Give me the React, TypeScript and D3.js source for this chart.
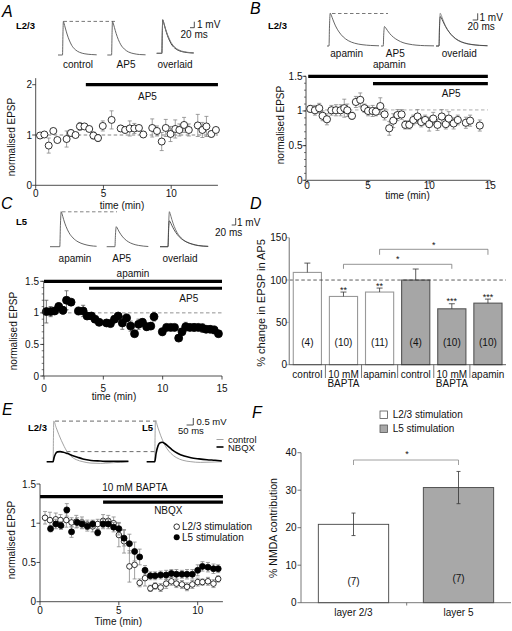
import React from 'react';
import * as d3 from 'd3';

const FONT = "'Liberation Sans', Arial, Helvetica, sans-serif";

// ---------- Panel A data ----------
const A_time = [0.32,0.64,0.96,1.3,1.6,2.28,2.6,2.94,3.26,3.6,3.95,4.26,4.6,4.95,5.6,6.27,6.6,6.94,7.28,7.62,7.94,8.6,8.95,9.3,9.6,9.95,10.3,10.6,10.95,11.3,11.96,12.3,12.6,12.96,13.3];
const A_val = [0.99,1.01,0.79,1.08,0.9,0.92,1.04,1.0,1.17,1.17,1.12,0.99,0.94,1.18,1.3,1.13,1.1,1.13,1.13,1.14,1.01,1.14,1.08,0.87,1.14,1.02,1.12,1.1,1.2,1.1,1.19,1.1,1.17,1.02,1.1];
const A_err = [0.03,0.04,0.15,0.03,0.04,0.16,0.06,0.05,0.08,0.04,0.04,0.07,0.07,0.1,0.18,0.06,0.06,0.15,0.1,0.05,0.06,0.18,0.1,0.18,0.17,0.15,0.18,0.12,0.15,0.12,0.22,0.15,0.2,0.06,0.05];
const A_xticks = [0,5,10];
const A_yticks = [0,1,2];

// ---------- Panel B data ----------
const B_time = [0.27,0.65,1.0,1.28,1.63,2.0,2.37,2.75,3.05,3.3,3.68,4.0,4.36,4.7,5.0,5.37,5.64,6.0,6.35,6.73,7.06,7.4,7.74,8.04,8.37,8.7,9.05,9.35,9.67,10.0,10.33,10.68,11.03,11.36,11.6,12.0,12.34,13.0,13.35,14.14];
const B_val = [1.03,1.01,1.04,0.93,0.88,1.01,1.01,1.01,1.04,1.01,0.93,1.13,1.16,1.04,1.0,1.0,0.99,1.07,0.95,0.75,0.86,0.94,0.95,0.8,0.8,0.87,0.92,0.84,0.87,0.81,0.89,0.8,0.92,0.81,0.89,0.82,0.87,0.83,0.86,0.79];
const B_err = [0.05,0.07,0.07,0.07,0.08,0.07,0.08,0.08,0.13,0.09,0.05,0.08,0.1,0.06,0.07,0.08,0.06,0.12,0.08,0.1,0.1,0.08,0.07,0.06,0.06,0.07,0.1,0.07,0.07,0.1,0.09,0.08,0.1,0.07,0.1,0.08,0.07,0.08,0.08,0.08];
const B_xticks = [0,5,10,15];
const B_yticks = [0,0.5,1,1.5];

// ---------- Panel C data ----------
const C_time = [0.2,0.56,0.9,1.24,1.6,1.9,2.28,2.9,3.3,3.63,4.0,4.3,4.65,5.27,5.6,5.94,6.25,6.6,6.96,7.3,7.63,7.97,8.3,8.65,9.0,9.27,9.97,10.33,10.68,11.0,11.35,11.63,11.94,12.3,12.65,13.0,13.35,13.66,14.0,14.34,14.7];
const C_val = [1.02,1.02,1.03,1.1,1.04,1.2,1.17,1.03,1.03,0.95,0.95,0.9,0.85,0.84,0.83,0.9,0.95,0.84,0.92,0.79,0.67,0.82,0.85,0.78,0.79,0.94,0.7,0.77,0.77,0.77,0.6,0.7,0.78,0.77,0.77,0.77,0.76,0.74,0.74,0.73,0.67];
const C_err = [0.18,0.08,0.05,0.06,0.06,0.15,0.05,0.06,0.09,0.05,0.05,0.04,0.05,0.05,0.05,0.05,0.04,0.1,0.06,0.08,0.04,0.08,0.06,0.06,0.05,0.07,0.06,0.05,0.04,0.04,0.04,0.05,0.07,0.05,0.06,0.05,0.07,0.05,0.05,0.06,0.04];

// ---------- Panel D data ----------
const D_cats = ['control','10 mM|BAPTA','apamin','control','10 mM|BAPTA','apamin'];
const D_val = [109,80.6,85.8,100,66,72.7];
const D_err = [11,5.2,4.7,13,6,4.8];
const D_n = ['(4)','(10)','(11)','(4)','(10)','(10)'];
const D_stars = ['','**','**','','***','***'];
const D_group = [0,0,0,1,1,1];
const D_yticks = [0,50,100,150];

// ---------- Panel E data ----------
const E_time = [0.32,0.63,1.0,1.3,1.67,2.0,2.3,2.66,3.0,3.34,3.66,4.0,4.33,4.67,5.0,5.33,5.67,6.0,6.32,6.66,7.0,7.3,7.65,8.0,8.33,8.65,9.0,9.32,9.66,10.0,10.3,10.65,11.0,11.3];
const E_l23 = [1.07,1.04,1.05,1.04,1.04,1.01,1.02,1.01,0.98,0.96,0.99,1.03,1.03,1.0,0.85,0.77,0.45,0.47,0.24,0.3,0.17,0.2,0.18,0.23,0.26,0.23,0.22,0.19,0.22,0.25,0.25,0.26,0.23,0.29];
const E_l23_err = [0.08,0.1,0.08,0.07,0.09,0.06,0.08,0.07,0.06,0.07,0.06,0.08,0.07,0.08,0.15,0.15,0.2,0.18,0.05,0.1,0.04,0.04,0.05,0.06,0.05,0.05,0.05,0.05,0.05,0.05,0.04,0.05,0.05,0.04];
const E_time5 = [0.67,1.0,1.33,1.7,2.0,2.35,2.66,3.0,3.34,3.66,4.0,4.33,4.67,5.0,5.33,5.67,6.0,6.32,6.66,7.0,7.3,7.65,8.0,8.33,8.65,9.0,9.32,9.66,10.0,10.3,10.65,11.0,11.3];
const E_l5 = [0.93,0.99,0.97,1.17,0.89,1.01,0.99,0.96,0.99,0.88,0.99,0.99,0.95,0.93,0.81,0.74,0.64,0.57,0.4,0.33,0.33,0.34,0.34,0.36,0.35,0.35,0.35,0.35,0.4,0.45,0.44,0.42,0.42];
const E_l5_err = [0.04,0.06,0.05,0.08,0.07,0.06,0.06,0.06,0.05,0.04,0.06,0.06,0.06,0.08,0.1,0.12,0.12,0.1,0.06,0.05,0.05,0.05,0.06,0.05,0.06,0.05,0.06,0.06,0.07,0.06,0.06,0.06,0.05];
const E_xticks = [0,5,10];
const E_yticks = [0,0.5,1,1.5];

// ---------- Panel F data ----------
const F_cats = ['layer 2/3','layer 5'];
const F_val = [20.9,30.7];
const F_err = [3.0,4.3];
const F_n = ['(7)','(7)'];
const F_yticks = [0,10,20,30,40];
const F_legend = ['L2/3 stimulation','L5 stimulation'];

// ---------- EPSP traces [ms, mV] ----------
type Pt = [number, number];
const A_ctrl: Pt[] = [[0,0],[21,0],[23,3.5],[25,5.6],[28,5.3],[34,4.5],[42,3.5],[52,2.5],[64,1.6],[80,0.9],[100,0.45],[125,0.2],[155,0.08],[180,0.03]];
const A_ap5: Pt[] = [[0,0],[20,0],[22,3.4],[24,5.6],[27,5.35],[33,4.6],[41,3.6],[51,2.6],[63,1.7],[79,1.0],[99,0.5],[124,0.22],[150,0.08],[178,0.03]];
const A_ov1: Pt[] = [[0,0],[24,0],[26,3.4],[28,5.6],[31,5.3],[37,4.5],[45,3.5],[55,2.5],[67,1.6],[83,0.9],[103,0.45],[128,0.2],[155,0.08],[172,0.05]];
const A_ov2: Pt[] = [[0,0],[24,0],[26,3.3],[28,5.5],[31,5.3],[37,4.6],[45,3.65],[55,2.7],[67,1.8],[83,1.05],[103,0.55],[128,0.26],[155,0.12],[172,0.07]];
const B_apa: Pt[] = [[0,0],[8,0],[10,3],[13,4.9],[17,4.6],[24,3.9],[34,3.0],[48,2.1],[65,1.35],[85,0.8],[110,0.42],[140,0.2],[175,0.08],[208,0.03]];
const B_ap5: Pt[] = [[0,0],[9,0],[11,1.8],[14,2.9],[18,2.75],[25,2.35],[35,1.85],[50,1.3],[68,0.85],[88,0.5],[112,0.28],[140,0.13],[175,0.05],[212,0.02]];
const B_ov1: Pt[] = [[0,0],[12,0],[14,3],[17,4.9],[21,4.6],[28,3.9],[38,3.0],[52,2.1],[69,1.35],[89,0.8],[114,0.42],[144,0.2],[175,0.08],[206,0.03]];
const B_ov2: Pt[] = [[0,0],[12,0],[14,2.7],[17,4.4],[21,4.2],[28,3.65],[38,2.9],[52,2.1],[69,1.4],[89,0.85],[114,0.46],[144,0.22],[175,0.1],[206,0.04]];
const C_apa: Pt[] = [[0,0],[49,0],[52,3],[56,5.0],[60,4.7],[68,3.9],[80,2.9],[95,2.0],[115,1.25],[140,0.7],[170,0.35],[200,0.15],[233,0.06]];
const C_ap5: Pt[] = [[0,0],[41,0],[44,1.8],[48,2.86],[52,2.7],[60,2.25],[72,1.7],[88,1.15],[108,0.7],[132,0.38],[160,0.18],[185,0.08],[208,0.03]];
const C_ov1: Pt[] = [[0,0],[40,0],[43,3],[47,5.0],[51,4.7],[59,3.9],[71,2.9],[86,2.0],[106,1.25],[131,0.7],[161,0.35],[191,0.15],[241,0.04]];
const C_ov2: Pt[] = [[0,0],[40,0],[43,2.3],[47,3.7],[51,3.55],[59,3.05],[71,2.4],[86,1.75],[106,1.15],[131,0.7],[161,0.38],[191,0.18],[241,0.05]];
const E_l23_ctrl: Pt[] = [[0,0],[48,0],[50,1.5],[53,2.9],[70,2.45],[90,1.95],[110,1.5],[130,1.1],[150,0.75],[180,0.4],[220,0.15],[270,0.0],[330,-0.1],[400,-0.12],[480,-0.08],[550,-0.04],[610,-0.02]];
const E_l23_nbqx: Pt[] = [[0,0],[48,0],[55,0.3],[65,0.55],[80,0.7],[100,0.72],[125,0.68],[155,0.58],[190,0.45],[230,0.32],[270,0.2],[310,0.12],[350,0.07],[400,0.05],[450,0.02],[500,0.03],[560,0.02],[610,0.03]];
const E_l5_ctrl: Pt[] = [[0,0],[60,0],[62,1.5],[65,2.9],[85,2.4],[105,1.85],[125,1.4],[150,0.95],[180,0.6],[220,0.3],[270,0.1],[330,0.0],[400,-0.05],[480,-0.03],[560,0]];
const E_l5_nbqx: Pt[] = [[0,0],[60,0],[70,0.6],[85,1.15],[100,1.35],[115,1.39],[135,1.3],[160,1.1],[190,0.85],[230,0.6],[280,0.4],[330,0.28],[390,0.2],[450,0.14],[510,0.1],[560,0.06]];

const TXT = { fontFamily: FONT, fontSize: 10, fill: '#111' } as const;

function Trace({ pts, x0, y0, pxPerMs, pxPerMv, stroke = '#555', w = 0.9 }: any) {
  const xs = d3.scaleLinear().domain([0, 1]).range([x0, x0 + pxPerMs]);
  const ys = d3.scaleLinear().domain([0, 1]).range([y0, y0 - pxPerMv]);
  const line = d3.line<Pt>().x(d => xs(d[0])).y(d => ys(d[1])).curve(d3.curveMonotoneX);
  return <path d={line(pts) || ''} fill="none" stroke={stroke} strokeWidth={w} />;
}

function ScaleBar({ x, y, h, w, t1, t2, t1x, t1y, t2x, t2y, size = 10 }: any) {
  return (
    <g>
      <path d={`M${x - w},${y}H${x}V${y - h}`} fill="none" stroke="#222" strokeWidth={0.8} />
      <text x={t1x} y={t1y} style={{ ...TXT, fontSize: size }}>{t1}</text>
      <text x={t2x} y={t2y} style={{ ...TXT, fontSize: size }}>{t2}</text>
    </g>
  );
}

function YAxis({ scale, x, ticks, top, fmt = (d: number) => String(d), minor, labelX, color = '#222', w = 0.8 }: any) {
  const d0 = scale.domain()[0];
  const minorTicks: number[] = minor ? d3.range(d0, top + 1e-9, minor) : [];
  return (
    <g>
      <line x1={x} x2={x} y1={scale(d0)} y2={scale(top)} stroke={color} strokeWidth={w} />
      {minorTicks.map((t, i) => <line key={'m' + i} x1={x - 2} x2={x} y1={scale(t)} y2={scale(t)} stroke={color} strokeWidth={0.6} />)}
      {ticks.map((t: number, i: number) => (
        <g key={i}>
          <line x1={x - 3.5} x2={x} y1={scale(t)} y2={scale(t)} stroke={color} strokeWidth={0.8} />
          <text x={labelX} y={scale(t) + 3.5} textAnchor="end" style={TXT}>{fmt(t)}</text>
        </g>
      ))}
    </g>
  );
}

function XAxis({ scale, y, ticks, end, labelY }: any) {
  const d0 = scale.domain()[0];
  return (
    <g>
      <line x1={scale(d0)} x2={scale(end)} y1={y} y2={y} stroke="#222" strokeWidth={0.8} />
      {ticks.map((t: number, i: number) => (
        <g key={i}>
          <line x1={scale(t)} x2={scale(t)} y1={y} y2={y + 3.5} stroke="#222" strokeWidth={0.8} />
          <text x={scale(t)} y={labelY} textAnchor="middle" style={TXT}>{t}</text>
        </g>
      ))}
    </g>
  );
}

function Points({ t, v, e, xs, ys, r, filled, errColor = '#888', cap = 2 }: any) {
  return (
    <g>
      {t.map((ti: number, i: number) => {
        const cx = xs(ti), y1 = ys(v[i] + e[i]), y2 = ys(v[i] - e[i]);
        return (
          <path key={'e' + i} d={`M${cx},${y1}V${y2}M${cx - cap},${y1}H${cx + cap}M${cx - cap},${y2}H${cx + cap}`} stroke={errColor} strokeWidth={0.8} fill="none" />
        );
      })}
      {t.map((ti: number, i: number) => (
        <circle key={'c' + i} cx={xs(ti)} cy={ys(v[i])} r={r} fill={filled ? '#000' : '#fff'} stroke="#000" strokeWidth={0.8} />
      ))}
    </g>
  );
}

function Letter({ x, y, c }: any) {
  return <text x={x} y={y} style={{ fontFamily: FONT, fontSize: 16, fontStyle: 'italic', fill: '#000' }}>{c}</text>;
}

function Bold({ x, y, c }: any) {
  return <text x={x} y={y} style={{ fontFamily: FONT, fontSize: 9.5, fontWeight: 'bold', fill: '#000' }}>{c}</text>;
}

function RotLabel({ x, y, c, size = 10 }: any) {
  return <text transform={`translate(${x},${y}) rotate(-90)`} textAnchor="middle" style={{ ...TXT, fontSize: size }}>{c}</text>;
}

function PanelA() {
  const xs = d3.scaleLinear().domain([0, 10]).range([35.7, 171.2]);
  const ys = d3.scaleLinear().domain([0, 2]).range([185.3, 84.7]);
  const tr = { pxPerMs: 0.215, pxPerMv: 6 };
  return (
    <g>
      <Letter x={2} y={17} c="A" />
      <Bold x={16} y={29.3} c="L2/3" />
      <Trace pts={A_ctrl} x0={58} y0={55} {...tr} />
      <Trace pts={A_ap5} x0={107.3} y0={55} {...tr} />
      <Trace pts={A_ov1} x0={156.7} y0={53.3} {...tr} stroke="#333" w={1} />
      <Trace pts={A_ov2} x0={156.7} y0={53.3} {...tr} stroke="#777" w={1} />
      <line x1={63.5} x2={115} y1={21.4} y2={21.4} stroke="#555" strokeWidth={0.8} strokeDasharray="3.5,2.5" />
      <ScaleBar x={194.3} y={27.7} h={6} w={4.3} t1="1 mV" t2="20 ms" t1x={197} t1y={28} t2x={180.5} t2y={37.5} />
      <text x={78} y={68} textAnchor="middle" style={TXT}>control</text>
      <text x={126} y={68} textAnchor="middle" style={TXT}>AP5</text>
      <text x={175} y={68} textAnchor="middle" style={TXT}>overlaid</text>
      <line x1={xs(3.7)} x2={xs(13.45)} y1={ys(2)} y2={ys(2)} stroke="#000" strokeWidth={3.2} />
      <text x={xs(8.25)} y={100} textAnchor="middle" style={TXT}>AP5</text>
      <line x1={xs(0)} x2={xs(13.45)} y1={ys(1)} y2={ys(1)} stroke="#666" strokeWidth={0.8} strokeDasharray="3.5,2.5" />
      <Points t={A_time} v={A_val} e={A_err} xs={xs} ys={ys} r={3.5} filled={false} />
      <YAxis scale={ys} x={35.7} ticks={A_yticks} top={2.13} labelX={32} />
      <XAxis scale={xs} y={185.3} ticks={A_xticks} end={13.45} labelY={197} />
      <RotLabel x={15} y={137} c="normalised EPSP" />
      <text x={122} y={208.5} textAnchor="middle" style={TXT}>time (min)</text>
    </g>
  );
}

function PanelB() {
  const xs = d3.scaleLinear().domain([0, 15]).range([307, 490.3]);
  const ys = d3.scaleLinear().domain([0, 1.5]).range([180.3, 76.3]);
  const tr = { pxPerMs: 0.25, pxPerMv: 6.7 };
  return (
    <g>
      <Letter x={250} y={14} c="B" />
      <Bold x={268} y={29.3} c="L2/3" />
      <Trace pts={B_apa} x0={327} y0={46} {...tr} />
      <Trace pts={B_ap5} x0={381} y0={46} {...tr} />
      <Trace pts={B_ov1} x0={436} y0={46} {...tr} stroke="#888" />
      <Trace pts={B_ov2} x0={436} y0={46} {...tr} stroke="#444" />
      <line x1={332} x2={388} y1={13.5} y2={13.5} stroke="#555" strokeWidth={0.8} strokeDasharray="3.5,2.5" />
      <ScaleBar x={477.7} y={20} h={6.7} w={5} t1="1 mV" t2="20 ms" t1x={479.5} t1y={20.5} t2x={467.5} t2y={30} />
      <text x={346.7} y={57} textAnchor="middle" style={TXT}>apamin</text>
      <text x={395.3} y={57} textAnchor="middle" style={TXT}>AP5</text>
      <text x={389.3} y={67.5} textAnchor="middle" style={TXT}>apamin</text>
      <text x={459.3} y={57} textAnchor="middle" style={TXT}>overlaid</text>
      <line x1={xs(0.1)} x2={xs(14.8)} y1={ys(1.5)} y2={ys(1.5)} stroke="#000" strokeWidth={3.2} />
      <line x1={xs(5.4)} x2={xs(14.8)} y1={ys(1.394)} y2={ys(1.394)} stroke="#000" strokeWidth={3.2} />
      <text x={xs(11.8)} y={97} textAnchor="middle" style={TXT}>AP5</text>
      <line x1={xs(0)} x2={xs(14.8)} y1={ys(1.015)} y2={ys(1.015)} stroke="#999" strokeWidth={0.8} strokeDasharray="3.5,2.5" />
      <Points t={B_time} v={B_val} e={B_err} xs={xs} ys={ys} r={3.6} filled={false} />
      <YAxis scale={ys} x={306} ticks={B_yticks} top={1.5} labelX={302.5} minor={0.1} />
      <XAxis scale={xs} y={180.3} ticks={B_xticks} end={15} labelY={188.5} />
      <RotLabel x={284} y={125} c="normalised EPSP" />
      <text x={407.5} y={198.5} textAnchor="middle" style={TXT}>time (min)</text>
    </g>
  );
}

function PanelC() {
  const xs = d3.scaleLinear().domain([0, 15]).range([44, 222]);
  const ys = d3.scaleLinear().domain([0, 1.5]).range([376, 281.3]);
  const tr = { pxPerMs: 0.2, pxPerMv: 7 };
  return (
    <g>
      <Letter x={1} y={209} c="C" />
      <Bold x={16} y={225.3} c="L5" />
      <Trace pts={C_apa} x0={50} y0={246.7} {...tr} />
      <Trace pts={C_ap5} x0={106.7} y0={246.7} {...tr} />
      <Trace pts={C_ov1} x0={160} y0={246.7} {...tr} stroke="#666" />
      <Trace pts={C_ov2} x0={160} y0={246.7} {...tr} stroke="#444" />
      <line x1={62} x2={117} y1={211.8} y2={211.8} stroke="#666" strokeWidth={0.8} strokeDasharray="3.5,2.5" />
      <ScaleBar x={235.7} y={225} h={7} w={4} t1="1 mV" t2="20 ms" t1x={237} t1y={226} t2x={215} t2y={236} />
      <text x={75} y={262} textAnchor="middle" style={TXT}>apamin</text>
      <text x={121.7} y={262} textAnchor="middle" style={TXT}>AP5</text>
      <text x={180} y={262} textAnchor="middle" style={TXT}>overlaid</text>
      <line x1={xs(0)} x2={xs(15)} y1={ys(1.5)} y2={ys(1.5)} stroke="#000" strokeWidth={3.2} />
      <text x={xs(7.5)} y={276.5} textAnchor="middle" style={TXT}>apamin</text>
      <line x1={xs(3.8)} x2={xs(15)} y1={ys(1.39)} y2={ys(1.39)} stroke="#000" strokeWidth={3.2} />
      <text x={xs(12.2)} y={302} textAnchor="middle" style={TXT}>AP5</text>
      <line x1={xs(0)} x2={xs(15)} y1={ys(1)} y2={ys(1)} stroke="#777" strokeWidth={0.8} strokeDasharray="3.5,2.5" />
      <Points t={C_time} v={C_val} e={C_err} xs={xs} ys={ys} r={4} filled={true} errColor="#555" />
      <YAxis scale={ys} x={43.7} ticks={B_yticks} top={1.5} labelX={39} minor={0.1} />
      <XAxis scale={xs} y={376} ticks={B_xticks} end={15} labelY={391.5} />
      <RotLabel x={17} y={331} c="normalised EPSP" />
      <text x={114} y={400} textAnchor="middle" style={TXT}>time (min)</text>
    </g>
  );
}

function PanelD() {
  const idx = D_cats.map((_, i) => i);
  const xb = d3.scaleBand<number>().domain(idx).range([289.3, 506]).paddingInner(0.22).paddingOuter(0.11);
  const ys = d3.scaleLinear().domain([0, 150]).range([364.7, 237.7]);
  const step = xb.step();
  const cx = (i: number) => (xb(i) as number) + xb.bandwidth() / 2;
  const bracket = (a: number, b: number, y: number, drop: number, starY: number) => (
    <g>
      <path d={`M${cx(a)},${y + drop}V${y}H${cx(b)}V${y + drop}`} fill="none" stroke="#777" strokeWidth={0.8} />
      <text x={(cx(a) + cx(b)) / 2} y={starY} textAnchor="middle" style={{ ...TXT, fontSize: 9 }}>*</text>
    </g>
  );
  return (
    <g>
      <Letter x={250} y={209} c="D" />
      {idx.map(i => (
        <rect key={i} x={xb(i)} y={ys(D_val[i])} width={xb.bandwidth()} height={ys(0) - ys(D_val[i])}
          fill={D_group[i] ? '#a6a6a6' : '#fff'} stroke={D_group[i] ? '#555' : '#999'} strokeWidth={1.1} />
      ))}
      {idx.map(i => (
        <path key={'e' + i} d={`M${cx(i)},${ys(D_val[i])}V${ys(D_val[i] + D_err[i])}M${cx(i) - 3},${ys(D_val[i] + D_err[i])}H${cx(i) + 3}`} stroke="#333" strokeWidth={0.8} fill="none" />
      ))}
      {idx.map(i => (
        <text key={'s' + i} x={cx(i)} y={ys(D_val[i] + D_err[i]) + 0.5} textAnchor="middle" style={{ ...TXT, fontSize: 9 }}>{D_stars[i]}</text>
      ))}
      {idx.map(i => (
        <text key={'n' + i} x={cx(i)} y={345.5} textAnchor="middle" style={TXT}>{D_n[i]}</text>
      ))}
      <line x1={289.3} x2={506} y1={ys(100)} y2={ys(100)} stroke="#333" strokeWidth={0.8} strokeDasharray="3.5,2.5" />
      {bracket(1, 4, 264.3, 4.5, 261.5)}
      {bracket(2, 5, 249.3, 5.5, 248)}
      <YAxis scale={ys} x={289.3} ticks={D_yticks} top={150} labelX={287} color="#999" w={1.4} />
      <line x1={289.3} x2={506} y1={364.7} y2={364.7} stroke="#333" strokeWidth={0.8} />
      {d3.range(0, 5).map(i => (
        <line key={'t' + i} x1={cx(i) + step / 2} x2={cx(i) + step / 2} y1={364.7} y2={378} stroke="#555" strokeWidth={0.8} />
      ))}
      {idx.map(i => {
        const parts = D_cats[i].split('|');
        return (
          <g key={'l' + i}>
            <text x={cx(i)} y={377.5} textAnchor="middle" style={TXT}>{parts[0]}</text>
            {parts[1] && <text x={cx(i)} y={387} textAnchor="middle" style={TXT}>{parts[1]}</text>}
          </g>
        );
      })}
      <RotLabel x={265} y={303} c="% change in EPSP in AP5" size={11} />
    </g>
  );
}

function PanelE() {
  const xs = d3.scaleLinear().domain([0, 10]).range([40, 197.7]);
  const ys = d3.scaleLinear().domain([0, 1.5]).range([601.7, 484]);
  const tr = { pxPerMs: 0.134, pxPerMv: 14 };
  const y0 = 461.7;
  const peakCtrl = d3.max(E_l23_ctrl, d => d[1]) as number;
  const peakNb = d3.max(E_l23_nbqx, d => d[1]) as number;
  return (
    <g>
      <Letter x={2} y={415} c="E" />
      <Bold x={28} y={430.5} c="L2/3" />
      <Bold x={142} y={430.5} c="L5" />
      <line x1={55} x2={156.5} y1={y0 - peakCtrl * 14} y2={y0 - peakCtrl * 14} stroke="#444" strokeWidth={0.8} strokeDasharray="4,3" />
      <line x1={66.5} x2={157} y1={y0 - peakNb * 14} y2={y0 - peakNb * 14} stroke="#444" strokeWidth={0.8} strokeDasharray="4,3" />
      <Trace pts={E_l23_ctrl} x0={46.7} y0={y0} {...tr} stroke="#999" w={0.9} />
      <Trace pts={E_l23_nbqx} x0={46.7} y0={y0} {...tr} stroke="#000" w={1.6} />
      <Trace pts={E_l5_ctrl} x0={146.7} y0={y0} {...tr} stroke="#999" w={0.9} />
      <Trace pts={E_l5_nbqx} x0={146.7} y0={y0} {...tr} stroke="#000" w={1.6} />
      <ScaleBar x={193.3} y={425} h={7} w={6.7} t1="0.5 mV" t2="50 ms" t1x={196.5} t1y={424.5} t2x={178} t2y={433.5} size={9.5} />
      <line x1={216.5} x2={223.5} y1={439.5} y2={439.5} stroke="#999" strokeWidth={0.9} />
      <text x={228} y={442.8} style={{ ...TXT, fontSize: 9.5 }}>control</text>
      <line x1={216.5} x2={223.5} y1={447} y2={447} stroke="#000" strokeWidth={1.6} />
      <text x={228} y={450.5} style={{ ...TXT, fontSize: 9.5 }}>NBQX</text>
      <line x1={xs(0)} x2={xs(11.6)} y1={ys(1.34)} y2={ys(1.34)} stroke="#000" strokeWidth={3.2} />
      <text x={135} y={491} textAnchor="middle" style={TXT}>10 mM BAPTA</text>
      <line x1={xs(4.0)} x2={xs(11.6)} y1={ys(1.27)} y2={ys(1.27)} stroke="#000" strokeWidth={3.2} />
      <text x={168.3} y={514} textAnchor="middle" style={TXT}>NBQX</text>
      <Points t={E_time} v={E_l23} e={E_l23_err} xs={xs} ys={ys} r={2.8} filled={false} errColor="#888" cap={2} />
      <Points t={E_time5} v={E_l5} e={E_l5_err} xs={xs} ys={ys} r={3} filled={true} errColor="#888" cap={2} />
      <circle cx={176.7} cy={526.7} r={2.8} fill="#fff" stroke="#000" strokeWidth={0.8} />
      <text x={182} y={530.3} style={TXT}>L2/3 stimulation</text>
      <circle cx={176.7} cy={537.3} r={3} fill="#000" />
      <text x={182} y={541} style={TXT}>L5 stimulation</text>
      <YAxis scale={ys} x={40} ticks={E_yticks} top={1.5} labelX={36} />
      <XAxis scale={xs} y={601.7} ticks={E_xticks} end={11.6} labelY={613.5} />
      <RotLabel x={15} y={540} c="normalised EPSP" />
      <text x={118.3} y={625} textAnchor="middle" style={TXT}>Time (min)</text>
    </g>
  );
}

function PanelF() {
  const idx = F_cats.map((_, i) => i);
  const xb = d3.scaleBand<number>().domain(idx).range([301, 511]).paddingInner(0.33).paddingOuter(0.165);
  const ys = d3.scaleLinear().domain([0, 40]).range([602.7, 452.7]);
  const cx = (i: number) => (xb(i) as number) + xb.bandwidth() / 2;
  const fills = ['#fff', '#a8a8a8'];
  return (
    <g>
      <Letter x={252} y={418} c="F" />
      {F_legend.map((l, i) => (
        <g key={'lg' + i}>
          <rect x={380} y={411 + i * 14} width={7.5} height={7.5} fill={fills[i]} stroke="#555" strokeWidth={0.8} />
          <text x={392.7} y={418.3 + i * 14} style={TXT}>{l}</text>
        </g>
      ))}
      {idx.map(i => (
        <rect key={i} x={xb(i)} y={ys(F_val[i])} width={xb.bandwidth()} height={ys(0) - ys(F_val[i])} fill={fills[i]} stroke="#444" strokeWidth={0.9} />
      ))}
      {idx.map(i => (
        <path key={'e' + i} d={`M${cx(i)},${ys(F_val[i] - F_err[i])}V${ys(F_val[i] + F_err[i])}M${cx(i) - 2},${ys(F_val[i] + F_err[i])}H${cx(i) + 2}M${cx(i) - 2},${ys(F_val[i] - F_err[i])}H${cx(i) + 2}`} stroke="#333" strokeWidth={0.8} fill="none" />
      ))}
      {idx.map(i => (
        <text key={'n' + i} x={cx(i)} y={i === 0 ? 585 : 582} textAnchor="middle" style={TXT}>{F_n[i]}</text>
      ))}
      <path d={`M${cx(0)},465V460H${cx(1)}V465`} fill="none" stroke="#888" strokeWidth={0.8} />
      <text x={(cx(0) + cx(1)) / 2 + 1} y={457} textAnchor="middle" style={{ ...TXT, fontSize: 9 }}>*</text>
      <YAxis scale={ys} x={301} ticks={F_yticks} top={40} labelX={296.5} color="#555" />
      <line x1={301} x2={511} y1={602.7} y2={602.7} stroke="#555" strokeWidth={0.8} />
      <line x1={406.7} x2={406.7} y1={602.7} y2={605.5} stroke="#555" strokeWidth={0.8} />
      {idx.map(i => (
        <text key={'c' + i} x={cx(i)} y={616} textAnchor="middle" style={TXT}>{F_cats[i]}</text>
      ))}
      <RotLabel x={277} y={528} c="% NMDA contribution" size={10.5} />
    </g>
  );
}

export default function App() {
  return (
    <svg width={512} height={631} viewBox="0 0 512 631" style={{ position: 'absolute', left: 0, top: 0, background: '#fff' }}>
      <rect x={0} y={0} width={512} height={631} fill="#fff" />
      <PanelA />
      <PanelB />
      <PanelC />
      <PanelD />
      <PanelE />
      <PanelF />
    </svg>
  );
}
